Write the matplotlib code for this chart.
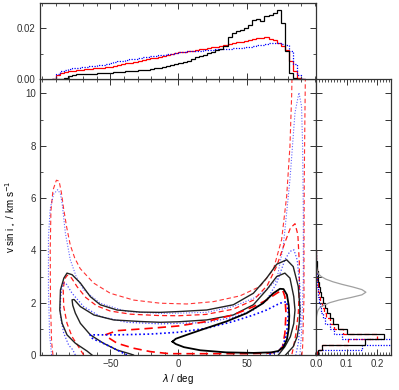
import numpy as np
import matplotlib
matplotlib.use('Agg')
import matplotlib.pyplot as plt
from matplotlib.ticker import MultipleLocator, FormatStrFormatter, FixedLocator

plt.rcParams['font.family'] = ['Liberation Sans', 'DejaVu Sans']
plt.rcParams['font.size'] = 7
plt.rcParams['mathtext.fontset'] = 'dejavusans'

# ---------------- data ----------------
# lambda marginal histograms (bin edges in deg, values x1e-3)
lam_edges = np.arange(-93, 94, 3)
lam_hist_black = [0, 0, 0, 0.5, 1.2, 1.5, 1.8, 1.9, 2.0, 2.0,
                  2.1, 2.2, 2.2, 2.4, 2.5, 2.6, 2.7, 2.9, 3.0, 3.1,
                  3.3, 3.4, 3.5, 3.7, 3.9, 4.2, 4.4, 4.7, 5.0, 5.4,
                  5.9, 6.4, 6.8, 7.3, 7.8, 8.6, 8.9, 9.5, 10.1, 10.7,
                  11.3, 12.0, 12.9, 16.5, 18.2, 18.8, 19.3, 20.0, 21.4, 23.3,
                  23.6, 22.9, 24.8, 25.4, 26.2, 27.2, 22.0, 11.0, 2.5, 0.3,
                  0, 0]
lam_hist_red = [0, 1.5, 2.3, 2.8, 3.1, 3.3, 3.6, 3.7, 3.9, 4.0,
                4.2, 4.4, 4.5, 4.7, 4.9, 5.3, 5.6, 5.9, 6.2, 6.5,
                6.8, 7.2, 7.5, 7.8, 8.1, 8.3, 8.6, 9.2, 9.5, 9.8,
                10.1, 10.5, 10.7, 11.0, 11.2, 11.4, 11.7, 11.9, 12.1, 12.5,
                12.8, 13.0, 13.4, 13.7, 14.2, 14.5, 14.7, 15.1, 15.4, 15.6,
                16.0, 16.3, 16.4, 15.8, 15.4, 14.4, 13.0, 11.5, 7.0, 3.0,
                0.5, 0]
lam_hist_blue = [0, 2.0, 3.0, 3.6, 4.0, 4.3, 4.5, 4.7, 4.9, 5.0,
                 5.3, 5.5, 5.6, 6.0, 6.3, 6.7, 7.0, 7.3, 7.6, 7.8,
                 8.0, 8.3, 8.6, 8.7, 8.9, 9.1, 9.3, 9.5, 9.7, 10.0,
                 10.3, 10.6, 10.8, 11.0, 11.0, 11.1, 11.2, 11.3, 11.5, 11.6,
                 11.7, 11.8, 11.9, 12.0, 12.1, 12.3, 12.4, 12.6, 12.8, 13.0,
                 13.3, 13.4, 13.8, 14.1, 14.3, 14.2, 14.0, 13.4, 11.0, 6.0,
                 1.5, 0]

# vsini marginal histograms
v_edges = np.arange(0, 4.01, 0.2)
v_hist_black = [0.005, 0.018, 0.16, 0.221, 0.10, 0.073, 0.056, 0.045, 0.036, 0.028,
                0.022, 0.017, 0.013, 0.010, 0.007, 0.005, 0.003, 0.002, 0.0015, 0.001]
v_hist_red = [0.003, 0.02, 0.105, 0.20, 0.088, 0.06, 0.045, 0.033, 0.025, 0.019,
              0.014, 0.010, 0.008, 0.006, 0.004, 0.003, 0.002, 0.0015, 0.001, 0.001]
v_hist_blue = [0.005, 0.15, 0.25, 0.085, 0.06, 0.045, 0.03, 0.022, 0.016, 0.012,
               0.009, 0.007, 0.005, 0.004, 0.003, 0.002, 0.0015, 0.001, 0.001, 0.0005]

# prior on vsini (grey curve)
prior_v = [1.3, 1.5, 1.7, 1.8, 1.9, 2.0, 2.1, 2.2, 2.3, 2.4, 2.5, 2.6, 2.7, 2.8, 2.9, 3.0, 3.1, 3.2, 3.4]
prior_p = [0.0, 0.002, 0.006, 0.012, 0.025, 0.045, 0.075, 0.115, 0.15, 0.163, 0.15, 0.12,
           0.085, 0.055, 0.032, 0.017, 0.008, 0.004, 0.001]

# contour lines (lambda [deg], vsini [km/s])
black_inner_lam = [-4.4, -2, 6, 20, 35, 50, 62, 69.5, 74.4, 77, 79.5, 80.8, 81.2, 80.8, 79.5, 77, 73, 68, 55, 35, 16, 4, -2, -4.4]
black_inner_v = [0.51, 0.62, 0.77, 1.02, 1.28, 1.6, 1.98, 2.36, 2.53, 2.52, 2.3, 1.9, 1.5, 1.0, 0.6, 0.3, 0.15, 0.1, 0.08, 0.10, 0.18, 0.3, 0.42, 0.51]

black_mid_lam = [-33, -35.3, -45, -55, -64.6, -71.9, -75.6, -77.5, -78, -76.5, -71.9, -62, -47.5, -28, -13.4, 0, 20.7, 40.2, 54.9, 64.6, 72, 78, 81.7, 84.5, 85.4, 84.5, 82, 78, 73.2]
black_mid_v = [0, 0.04, 0.19, 0.45, 0.77, 1.21, 1.6, 1.9, 2.11, 2.12, 1.85, 1.53, 1.34, 1.28, 1.25, 1.27, 1.34, 1.53, 1.92, 2.49, 3.0, 3.13, 2.94, 2.23, 1.72, 1.2, 0.7, 0.32, 0]

black_out_lam = [-63.4, -67, -75.6, -81.7, -85.3, -87, -86.5, -84, -81.7, -78, -71.9, -64.6, -57.3, -45, -28, -13.4, 0, 20.7, 40.2, 54.9, 64.6, 72, 79.3, 84.1, 87.8, 89, 88.5, 87, 84.1, 78.5]
black_out_v = [0, 0.15, 0.45, 0.77, 1.21, 1.72, 2.49, 2.94, 3.13, 3.07, 2.75, 2.23, 1.92, 1.72, 1.64, 1.63, 1.66, 1.72, 1.92, 2.36, 2.94, 3.47, 3.64, 3.38, 2.62, 1.8, 1.2, 0.7, 0.32, 0]

red_out_lam = [-92, -93, -93.8, -94, -93.5, -92, -89.5, -87.5, -85.8, -84.2, -82, -79.3, -76, -72, -62.2, -50, -32.9, -13.4, 6.1, 25.6, 45.1, 59.8, 69.5, 75.6, 79.3, 81.7, 83, 83.5, 93.2, 92.7, 92.2, 92, 92, 91, 90.5]
red_out_v = [0, 0.5, 2.0, 4.0, 5.5, 6.3, 6.68, 6.65, 6.2, 5.6, 4.9, 4.2, 3.7, 3.3, 2.75, 2.36, 2.1, 1.98, 1.95, 2.04, 2.26, 2.62, 3.26, 4.41, 6.07, 7.98, 10.0, 11.5, 11.5, 9.26, 6.7, 4.15, 2.23, 0.32, 0]

red_mid_lam = [-69.5, -73.2, -78, -81.7, -84.1, -84.5, -83.5, -81.5, -78.5, -74.3, -68, -60, -50, -35, -15, 0, 20, 40, 55, 65, 72, 78, 82, 85.4, 87.5, 88.6, 88.6, 87.8, 86, 84.3, 83]
red_mid_v = [0, 0.31, 0.7, 1.21, 1.85, 2.49, 2.9, 3.05, 2.95, 2.61, 2.2, 1.88, 1.68, 1.56, 1.51, 1.5, 1.55, 1.75, 2.1, 2.65, 3.4, 4.3, 4.85, 5.02, 4.6, 3.5, 2.5, 1.6, 0.8, 0.3, 0]

red_in_lam = [-53.7, -45, -20.7, 0, 20.7, 40, 55, 64.6, 72, 76.3, 78, 78.8, 78, 76.3, 73, 65, 50, 30, 10, -3.7, -8.5, -20.7, -33, -45, -51, -53.7]
red_in_v = [0.77, 0.93, 1.02, 1.11, 1.28, 1.53, 1.85, 2.1, 2.36, 2.49, 2.23, 1.6, 0.83, 0.32, 0.12, 0.07, 0.05, 0.05, 0.05, 0.05, 0.06, 0.13, 0.26, 0.45, 0.65, 0.77]

blue_out_lam = [-93, -94.5, -95.3, -95.3, -94, -91.5, -88.5, -86.5, -85.3, -82.9, -79.3, -75, -69.5, -57.3, -37.8, -13.4, 0, 20.7, 40, 55, 64.6, 72, 76.8, 81.7, 85.4, 88.3, 90.2, 91, 91.5, 91.5, 90.2, 89]
blue_out_v = [0, 0.8, 2.5, 4.5, 5.6, 6.15, 6.32, 6.15, 5.8, 4.66, 3.64, 3.0, 2.49, 1.98, 1.66, 1.59, 1.6, 1.63, 1.85, 2.17, 2.49, 2.87, 4.15, 6.7, 9.26, 10.03, 9.51, 7.98, 5.43, 2.87, 0.83, 0]

blue_mid_lam = [-75.6, -77.5, -80.5, -84.1, -86.5, -86.5, -85.5, -84, -82, -78, -69.5, -57.3, -37.8, -13.4, 0, 20.7, 40, 55, 64.6, 72, 78, 81.7, 84.6, 87, 89, 89.5, 87.8, 86]
blue_mid_v = [0, 0.2, 0.38, 0.83, 1.47, 2.1, 2.55, 2.75, 2.7, 2.36, 1.85, 1.47, 1.25, 1.19, 1.21, 1.24, 1.44, 1.72, 2.1, 2.75, 3.64, 3.96, 4.02, 3.64, 2.62, 1.34, 0.45, 0]

blue_in_lam = [-37.8, -42.7, -50, -58, -62.2, -64.6, -64.6, -55, -45, -20.7, 0, 20.7, 40, 55, 64.6, 74.4, 79.3, 80.5, 79.3, 76.8, 73.2, 64.6]
blue_in_v = [0, 0.13, 0.32, 0.52, 0.6, 0.7, 0.77, 0.77, 0.77, 0.80, 0.87, 1.02, 1.28, 1.53, 1.72, 1.98, 2.04, 1.6, 0.83, 0.38, 0.13, 0]

lam_ticks = [-50, 0, 50]
v_ticks = [0, 2, 4, 6, 8, 10]

# ---------------- figure ----------------
W, H = 399, 390
fig = plt.figure(figsize=(W / 100, H / 100), dpi=100)
L, R, B, T = 40 / W, 316 / W, 1 - 355 / H, 1 - 79 / H
TT = 1 - 3 / H
RR = 391 / W
axm = fig.add_axes([L, B, R - L, T - B])
axt = fig.add_axes([L, T, R - L, TT - T])
axr = fig.add_axes([R, B, RR - R, T - B])

red = '#ff0000'
blue = '#0000ff'

# main contours
axm.plot(red_out_lam, red_out_v, color=red, lw=0.8, ls=(0, (4, 2.5)), alpha=0.8)
axm.plot(blue_out_lam, blue_out_v, color=blue, lw=0.8, ls=(0, (1, 1.5)), alpha=0.6)
axm.plot(red_mid_lam, red_mid_v, color=red, lw=0.9, ls=(0, (4, 2.5)), alpha=0.9)
axm.plot(blue_mid_lam, blue_mid_v, color=blue, lw=0.9, ls=(0, (1, 1.5)), alpha=0.7)
axm.plot(black_out_lam, black_out_v, color='#222222', lw=1.0)
axm.plot(black_mid_lam, black_mid_v, color='#222222', lw=1.0)
axm.plot(red_in_lam, red_in_v, color=red, lw=1.2, ls=(0, (5, 3)))
axm.plot(blue_in_lam, blue_in_v, color=blue, lw=1.2, ls=(0, (1, 1.5)))
axm.plot(black_inner_lam, black_inner_v, color='black', lw=1.3)

axm.set_xlim(-101.5, 100.8)
axm.set_ylim(0, 10.55)
axm.set_xlabel(r'$\lambda$ / deg', labelpad=2)
axm.set_ylabel(r'v sin i$_\star$ / km s$^{-1}$', labelpad=6)
axm.xaxis.set_major_locator(FixedLocator(lam_ticks))
axm.xaxis.set_minor_locator(MultipleLocator(10))
axm.yaxis.set_major_locator(FixedLocator(v_ticks))
axm.yaxis.set_minor_locator(MultipleLocator(1))

# top histogram
scale = 1e-3
axt.stairs(np.array(lam_hist_red) * scale, lam_edges, color=red, lw=0.9)
axt.stairs(np.array(lam_hist_blue) * scale, lam_edges, color=blue, lw=0.9, ls=(0, (1, 1.2)))
axt.stairs(np.array(lam_hist_black) * scale, lam_edges, color='black', lw=0.9)
axt.set_xlim(axm.get_xlim())
axt.set_ylim(0, 0.030)
axt.xaxis.set_major_locator(FixedLocator(lam_ticks))
axt.xaxis.set_minor_locator(MultipleLocator(10))
axt.yaxis.set_major_locator(FixedLocator([0.0, 0.02]))
axt.yaxis.set_minor_locator(MultipleLocator(0.01))
axt.yaxis.set_major_formatter(FormatStrFormatter('%.2f'))
axt.tick_params(labelbottom=False)

# right histogram
axr.plot(prior_p, prior_v, color='#a0a0a0', lw=0.9)
axr.stairs(v_hist_red, v_edges, orientation='horizontal', color=red, lw=0.9, ls=(0, (4, 2)))
axr.stairs(v_hist_blue, v_edges, orientation='horizontal', color=blue, lw=0.9, ls=(0, (1, 1.2)))
axr.stairs(v_hist_black, v_edges, orientation='horizontal', color='black', lw=0.9)
axr.set_ylim(axm.get_ylim())
axr.set_xlim(0, 0.245)
axr.xaxis.set_major_locator(FixedLocator([0.0, 0.1, 0.2]))
axr.xaxis.set_minor_locator(MultipleLocator(0.01))
axr.xaxis.set_major_formatter(FormatStrFormatter('%.1f'))
axr.yaxis.set_major_locator(MultipleLocator(1))
axr.tick_params(labelleft=False)

for ax in (axm, axt, axr):
    ax.tick_params(which='both', direction='in', top=True, right=True, colors='#333333',
                   labelcolor='#333333', pad=3)
    ax.tick_params(which='major', length=4, width=0.7)
    ax.tick_params(which='minor', length=2.5, width=0.6)
    for s in ax.spines.values():
        s.set_linewidth(0.9)
        s.set_color('#333333')

fig.savefig('out.png', dpi=100)
